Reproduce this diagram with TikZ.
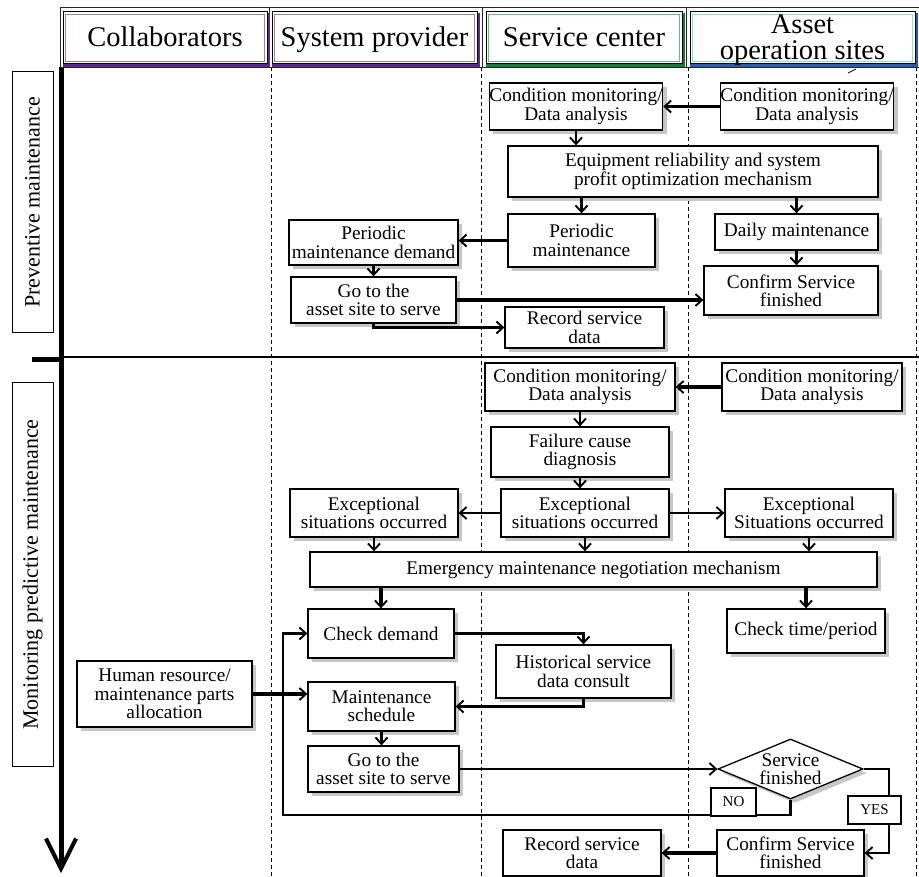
\documentclass[tikz,border=0pt]{standalone}
\usepackage{fontspec}
\setmainfont{Liberation Serif}
\usetikzlibrary{arrows.meta,shadows,shapes.geometric}

\newcommand\dgBox{\fontsize{19.3}{18.3}\selectfont}
\newcommand\dgHead{\fontsize{28.5}{27}\selectfont}
\newcommand\dgSide{\fontsize{22}{24}\selectfont}
\newcommand\dgTag{\fontsize{15}{16}\selectfont}

\definecolor{purpA}{HTML}{9C7BC8}
\definecolor{purpB}{HTML}{5B2C8F}
\definecolor{greenA}{HTML}{5DBF8E}
\definecolor{greenB}{HTML}{137A3A}
\definecolor{blueA}{HTML}{8FD8E8}
\definecolor{blueB}{HTML}{2E5AAE}

\begin{document}
\begin{tikzpicture}[x=1pt,y=-1pt,
  stepbox/.style={draw=black, line width=1.3pt, fill=white, inner sep=0pt,
    align=center, font=\dgBox,
    drop shadow={shadow xshift=4pt, shadow yshift=-4pt, fill=black!22, opacity=1}},
  lane/.style={dash pattern=on 4pt off 3pt, line width=0.9pt},
  flow/.style={line width=2.1pt, -{Straight Barb[length=6.5pt,width=12pt,line width=1.9pt]}},
  heavy/.style={flow, line width=3.2pt},
  tag/.style={draw=black, line width=1.2pt, fill=white, inner sep=0pt, font=\dgTag},
  headbox/.style={draw=black, line width=1pt, fill=white, inner sep=0pt, minimum height=52pt},
  headtxt/.style={inner sep=0pt, align=center, font=\dgHead},
  sidebox/.style={draw=black, line width=1pt, fill=white, rotate=90,
    inner sep=0pt, minimum height=41pt, font=\dgSide},
]
\useasboundingbox (0,0) rectangle (919,877);

% swimlane separators
\draw[lane] (271,67) -- (271,877);
\draw[lane] (481,67) -- (481,877);
\draw[lane] (688,67) -- (688,877);
\draw[lane] (916,67) -- (916,877);

% phase divider
\draw[line width=1.1pt] (61,357) -- (919,357);
\draw[line width=5pt] (32,360) -- (61,360);

% time axis
\coordinate (tTop) at (61,67);
\coordinate (tEnd) at (61,873);
\draw[line width=5pt, -{Straight Barb[length=30pt,width=30pt,line width=4pt]}] (tTop) -- (tEnd);

% header frame
\draw[line width=0.8pt, black!85] (60,7) rectangle (919,67);
\draw[line width=0.8pt, black!85] (269,7) -- (269,67) (482,7) -- (482,67) (686,7) -- (686,67);

% column titles
\draw[line width=3pt, purpB] (64,15) rectangle (268,66);
\node[headbox, minimum width=204pt] (hCol) at (165,38) {};
\draw[line width=1.2pt, purpA] (65.5,14.5) rectangle (264.5,61.5);
\node[headtxt, anchor=base] (tCol) at (165,47) {Collaborators};

\draw[line width=3pt, purpB] (273,15) rectangle (478,66);
\node[headbox, minimum width=205pt] (hSys) at (374.5,38) {};
\draw[line width=1.2pt, purpA] (274.5,14.5) rectangle (474.5,61.5);
\node[headtxt, anchor=base] (tSys) at (374.5,47) {System provider};

\draw[line width=3pt, greenB] (487,15) rectangle (683,66);
\node[headbox, minimum width=196pt] (hSvc) at (584,38) {};
\draw[line width=1.2pt, greenA] (488.5,14.5) rectangle (679.5,61.5);
\node[headtxt, anchor=base] (tSvc) at (584,47) {Service center};

\draw[line width=3pt, blueB] (691,15) rectangle (916,66);
\node[headbox, minimum width=225pt] (hAst) at (802.5,38) {};
\draw[line width=1.2pt, blueA] (692.5,14.5) rectangle (912.5,61.5);
\node[headtxt, font=\fontsize{28.5}{26}\selectfont] (tAst) at (802.5,40) {Asset\\operation sites};
\draw[line width=0.8pt] (848,73) -- (856,69);

% phase labels
\node[sidebox, minimum width=261pt] (prevLbl) at (32.5,202.5) {Preventive maintenance};
\node[sidebox, minimum width=383pt] (monLbl) at (32.5,574.5) {Monitoring predictive maintenance};

% ---- preventive maintenance ----
\node[stepbox, minimum width=172pt, minimum height=47pt] (scA) at (576,106.5) {Condition monitoring/\\Data analysis};
\node[stepbox, minimum width=172pt, minimum height=47pt] (asA) at (807,106.5) {Condition monitoring/\\Data analysis};
\node[stepbox, minimum width=370pt, minimum height=51pt] (eq) at (693,171.5) {Equipment reliability and system\\profit optimization mechanism};
\node[stepbox, minimum width=147pt, minimum height=53pt] (pm) at (581.5,240.5) {Periodic\\maintenance};
\node[stepbox, minimum width=163pt, minimum height=36pt] (dm) at (796.5,232) {Daily maintenance};
\node[stepbox, minimum width=169pt, minimum height=45pt] (pmd) at (373.5,242.5) {Periodic\\maintenance demand};
\node[stepbox, minimum width=165pt, minimum height=46pt] (go1) at (373.5,300) {Go to the\\asset site to serve};
\node[stepbox, minimum width=174pt, minimum height=49pt] (cf1) at (791,290.5) {Confirm Service\\finished};
\node[stepbox, minimum width=159pt, minimum height=41pt] (rec1) at (584.5,327.5) {Record service\\data};

\draw[heavy] (asA.west) -- (asA.west -| scA.east);
\draw[flow] (scA.south) -- (scA.south |- eq.north);
\draw[flow] (pm.north |- eq.south) -- (pm.north);
\draw[flow] (dm.north |- eq.south) -- (dm.north);
\draw[heavy] (pm.west) -- (pm.west -| pmd.east);
\draw[flow] (pmd.south) -- (go1.north);
\draw[flow] (dm.south) -- (dm.south |- cf1.north);
\draw[heavy] (go1.east) -- (go1.east -| cf1.west);
\draw[flow] (go1.south) |- (rec1.west);

% ---- monitoring predictive maintenance ----
\node[stepbox, minimum width=190pt, minimum height=48pt] (scB) at (580,387) {Condition monitoring/\\Data analysis};
\node[stepbox, minimum width=180pt, minimum height=48pt] (asB) at (812,387) {Condition monitoring/\\Data analysis};
\node[stepbox, minimum width=178pt, minimum height=50pt] (fcd) at (580,452) {Failure cause\\diagnosis};
\node[stepbox, minimum width=168pt, minimum height=48pt] (exS) at (585,513) {Exceptional\\situations occurred};
\node[stepbox, minimum width=168pt, minimum height=48pt] (exP) at (374,513) {Exceptional\\situations occurred};
\node[stepbox, minimum width=168pt, minimum height=48pt] (exA) at (809,513) {Exceptional\\Situations occurred};
\node[stepbox, minimum width=567pt, minimum height=35pt] (emg) at (593.5,569.5) {Emergency maintenance negotiation mechanism};
\node[stepbox, minimum width=146pt, minimum height=49pt] (cd) at (381,633.5) {Check demand};
\node[stepbox, minimum width=158pt, minimum height=44pt] (ctp) at (806,631) {Check time/period};
\node[stepbox, minimum width=175pt, minimum height=53pt] (hist) at (583.5,671.5) {Historical service\\data consult};
\node[stepbox, minimum width=175pt, minimum height=66pt] (hr) at (164.5,694) {Human resource/\\maintenance parts\\allocation};
\node[stepbox, minimum width=147pt, minimum height=49pt] (ms) at (381.5,706.5) {Maintenance\\schedule};
\node[stepbox, minimum width=151pt, minimum height=46pt] (go2) at (383.5,769) {Go to the\\asset site to serve};
\node[diamond, draw=black, line width=1.3pt, fill=white, inner sep=0pt, align=center,
  font=\dgBox, shape aspect=2.4, minimum width=145pt, minimum height=60pt,
  drop shadow={shadow xshift=4pt, shadow yshift=-4pt, fill=black!22, opacity=1}] (dia) at (790.5,769) {Service\\finished};
\node[stepbox, minimum width=147pt, minimum height=46pt] (cf2) at (790.5,853) {Confirm Service\\finished};
\node[stepbox, minimum width=158pt, minimum height=46pt] (rec2) at (582,853) {Record service\\data};

\draw[heavy] (asB.west) -- (asB.west -| scB.east);
\draw[flow] (scB.south) -- (fcd.north);
\draw[flow] (fcd.south) -- (fcd.south |- exS.north);
\draw[flow] (exS.west) -- (exP.east);
\draw[flow] (exS.east) -- (exA.west);
\draw[flow] (exP.south) -- (exP.south |- emg.north);
\draw[flow] (exS.south) -- (exS.south |- emg.north);
\draw[flow] (exA.south) -- (exA.south |- emg.north);
\draw[heavy] (cd.north |- emg.south) -- (cd.north);
\draw[heavy] (ctp.north |- emg.south) -- (ctp.north);
\draw[flow] (cd.east) -| (hist.north);
\draw[flow] (hist.south) |- (ms.east);
\draw[heavy] (hr.east) -- (hr.east -| ms.west);
\draw[flow] (ms.south) -- (ms.south |- go2.north);
\draw[flow] (go2.east) -- (dia.west);
\coordinate (loopL) at (283,815);
\draw[flow] (dia.south) |- (loopL) |- (cd.west);
\coordinate (yesR) at (889,769);
\draw[flow] (dia.east) -- (yesR) |- (cf2.east);
\draw[heavy] (cf2.west) -- (rec2.east);

\node[tag, minimum width=45pt, minimum height=28pt] (noTag) at (733.5,802) {NO};
\node[tag, minimum width=53pt, minimum height=28pt] (yesTag) at (874.5,810) {YES};
\end{tikzpicture}
\end{document}
